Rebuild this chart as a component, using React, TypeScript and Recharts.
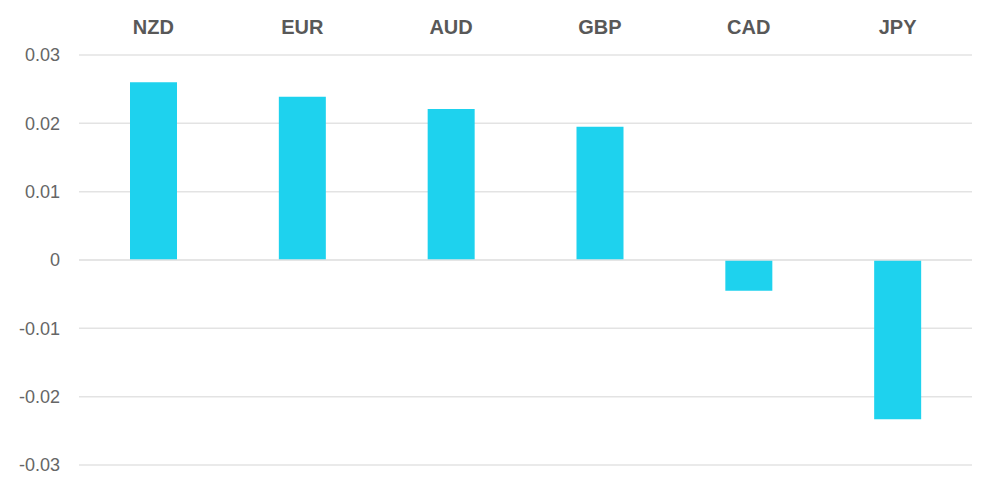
import { BarChart, Bar, XAxis, YAxis, CartesianGrid, ReferenceLine } from "recharts";

const currencies = ["NZD", "EUR", "AUD", "GBP", "CAD", "JPY"];
const changes = [0.026, 0.0239, 0.0221, 0.0195, -0.0045, -0.0233];
const yTicks = [-0.03, -0.02, -0.01, 0, 0.01, 0.02, 0.03];

const data = currencies.map((name, i) => ({ name, value: changes[i] }));

export default function App() {
  return (
    <div style={{ position: "absolute", left: 0, top: 0, width: 1000, height: 493, background: "#fff" }}>
      <BarChart
        width={1000}
        height={493}
        data={data}
        margin={{ top: 0, right: 28, left: 0, bottom: 28 }}
        style={{ fontFamily: "'Liberation Sans', Arial, sans-serif" }}
      >
        <CartesianGrid vertical={false} stroke="#e3e3e3" strokeWidth={1.5} />
        <XAxis
          dataKey="name"
          orientation="top"
          height={55}
          axisLine={false}
          tickLine={false}
          tickSize={0}
          tickMargin={21}
          tick={{ fill: "#585858", fontSize: 20, fontWeight: 700 }}
        />
        <YAxis
          width={79}
          domain={[-0.03, 0.03]}
          ticks={yTicks}
          axisLine={false}
          tickLine={false}
          tickSize={0}
          tickMargin={19}
          tick={{ fill: "#666", fontSize: 18 }}
          tickFormatter={(v: number) => String(v)}
        />
        <ReferenceLine y={0} stroke="#e3e3e3" strokeWidth={1.5} />
        <Bar dataKey="value" fill="#1ED2EE" barSize={47} isAnimationActive={false} />
      </BarChart>
    </div>
  );
}
